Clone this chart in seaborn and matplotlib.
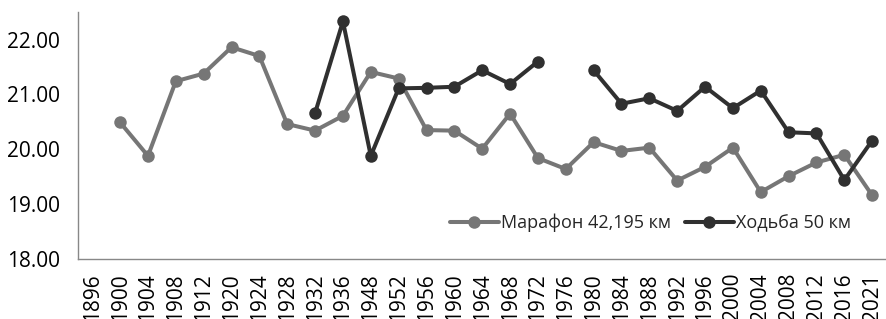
import numpy as np
import pandas as pd
import seaborn as sns
import matplotlib.pyplot as plt
from matplotlib.lines import Line2D

# olympic years (category axis)
years = ['1896', '1900', '1904', '1908', '1912', '1920', '1924', '1928', '1932', '1936',
         '1948', '1952', '1956', '1960', '1964', '1968', '1972', '1976', '1980', '1984',
         '1988', '1992', '1996', '2000', '2004', '2008', '2012', '2016', '2021']

marathon = [None, 20.49, 19.88, 21.24, 21.38, 21.86, 21.70, 20.46, 20.34, 20.61,
            21.41, 21.29, 20.35, 20.34, 20.01, 20.65, 19.84, 19.64, 20.13, 19.97,
            20.03, 19.43, 19.68, 20.03, 19.22, 19.51, 19.76, 19.90, 19.16]

walk = [None, None, None, None, None, None, None, None, 20.66, 22.33,
        19.88, 21.11, 21.12, 21.14, 21.44, 21.19, 21.60, None, 21.44, 20.83,
        20.93, 20.70, 21.14, 20.75, 21.07, 20.31, 20.29, 19.44, 20.16]

series_names = ['Марафон 42,195 км', 'Ходьба 50 км']
colors = ['#767676', '#303030']

# long table, broken into segments at missing values
frames = []
for name, vals in zip(series_names, [marathon, walk]):
    d = pd.DataFrame({'pos': range(len(years)), 'time': pd.array(vals, dtype='Float64')})
    d['seg'] = d['time'].isna().cumsum()
    d['series'] = name
    frames.append(d.dropna())
df = pd.concat(frames, ignore_index=True)
df['time'] = df['time'].astype(float)
df['unit'] = df['series'] + df['seg'].astype(str)

sns.set_style('white')
plt.rcParams['font.family'] = ['Open Sans', 'DejaVu Sans']
plt.rcParams['font.size'] = 15

fig = plt.figure(figsize=(8.87, 3.19), dpi=100)
ax = fig.add_axes([0.0883, 0.188, 0.9107, 0.774])

sns.lineplot(data=df, x='pos', y='time', hue='series', units='unit', estimator=None,
             hue_order=series_names, palette=colors, marker='o', markersize=9,
             markeredgewidth=0, linewidth=2.9, legend=False, ax=ax)

ax.set_xlim(-0.5, len(years) - 0.5)
ax.set_ylim(18, 22.5)
ax.set_yticks([18, 19, 20, 21, 22])
ax.set_yticklabels([f'{v:.2f}' for v in [18, 19, 20, 21, 22]])
ax.set_xticks(range(len(years)))
ax.set_xticklabels(years, rotation=90)
ax.set_xticks(np.arange(-0.5, len(years), 1), minor=True)
ax.set_xlabel('')
ax.set_ylabel('')

spine_color = '#888888'
for side in ['top', 'right']:
    ax.spines[side].set_visible(False)
for side in ['left', 'bottom']:
    ax.spines[side].set_color(spine_color)
    ax.spines[side].set_linewidth(1)

ax.tick_params(axis='x', which='major', length=0, pad=10, labelcolor='black')
ax.tick_params(axis='x', which='minor', length=4.5, width=1, color=spine_color, direction='out')
ax.tick_params(axis='y', length=4.5, width=1, color=spine_color, direction='out', pad=9,
               labelcolor='black')

handles = [Line2D([], [], color=c, marker='o', markersize=9, markeredgewidth=0, linewidth=2.9)
           for c in colors]
ax.legend(handles, series_names, loc='center', bbox_to_anchor=(0.708, 0.146), ncol=2,
          frameon=False, handlelength=2.7, handletextpad=0.1, columnspacing=0.8,
          fontsize=13)

fig.savefig('out.png', dpi=100)
